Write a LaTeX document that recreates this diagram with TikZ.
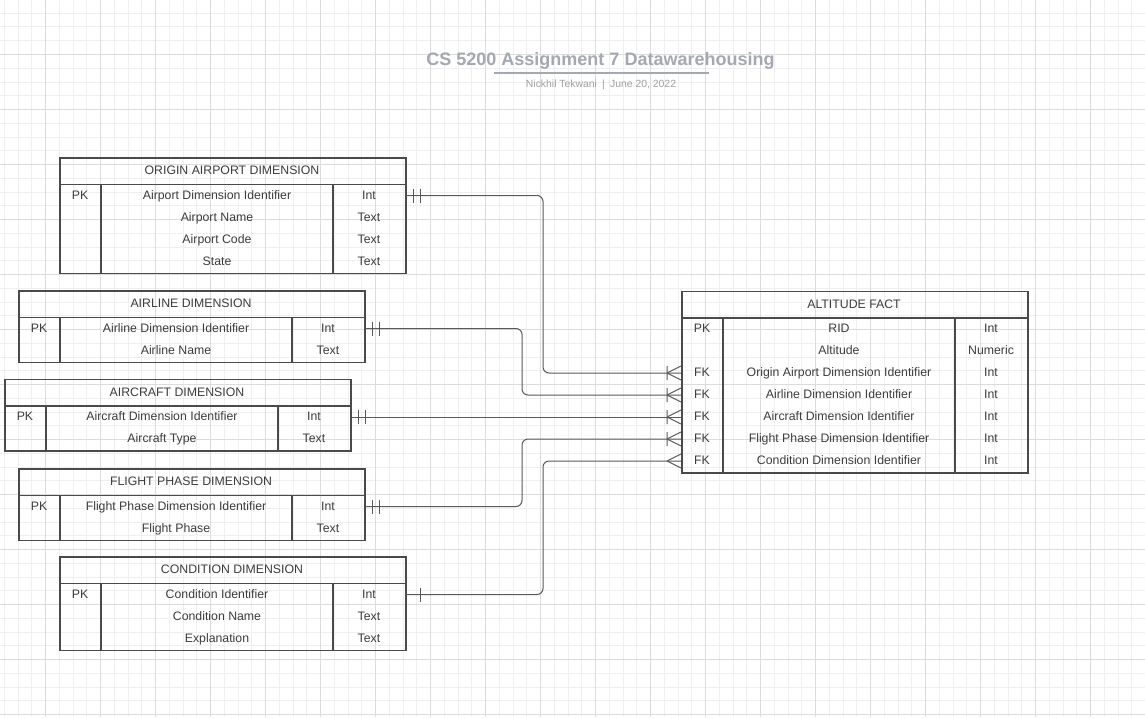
\documentclass[tikz,border=0pt]{standalone}
\usepackage{fontspec}
\setmainfont{Liberation Sans}
\usepackage{tikz}
\usetikzlibrary{positioning}

\definecolor{gridminor}{HTML}{EFEFEF}
\definecolor{gridmajor}{HTML}{DCDCDC}
\definecolor{boxline}{HTML}{4A4A4A}
\definecolor{relline}{HTML}{5A5A5A}
\definecolor{textgray}{HTML}{3C3C3C}
\definecolor{titlegray}{HTML}{A4A8B1}
\definecolor{subgray}{HTML}{A0A0A0}

\tikzset{
  tbox/.style={draw=boxline, line width=1.5pt, minimum width=346pt, inner sep=0pt, anchor=north west},
  tline/.style={draw=boxline, line width=1.2pt},
  htext/.style={font=\fontsize{12.3}{14}\selectfont, text=textgray, inner sep=0pt},
  ctext/.style={font=\fontsize{12.3}{14}\selectfont, text=textgray, inner sep=0pt, text height=8pt, text depth=1pt},
  rel/.style={draw=relline, line width=1pt, rounded corners=6pt},
  onlyone/.pic={\draw[rel] (7,-7) -- (7,7) (14,-7) -- (14,7);},
  justone/.pic={\draw[rel] (14,-7) -- (14,7);},
  crowbar/.pic={\draw[rel] (-14,-7) -- (-14,7) (-14,0) -- (0,-7) (-14,0) -- (0,7);},
  crowfoot/.pic={\draw[rel] (-14,0) -- (0,-7) (-14,0) -- (0,7);}
}

\begin{document}
\begin{tikzpicture}[x=1pt, y=-1pt]
\useasboundingbox (0,0) rectangle (1145,717);
\fill[white] (0,0) rectangle (1145,717);

% grid paper
\begin{scope}
\clip (0,0) rectangle (1145,717);
\foreach \i in {0,...,83} \draw[gridminor, line width=1pt] ({4.25+13.75*\i},0) -- ++(0,717);
\foreach \i in {1,...,52} \draw[gridminor, line width=1pt] (0,{-0.5+13.75*\i}) -- ++(1145,0);
\foreach \i in {1,...,20} \draw[gridmajor, line width=1pt] ({-9.5+55*\i},0) -- ++(0,717);
\foreach \i in {1,...,13} \draw[gridmajor, line width=1pt] (0,{-0.5+55*\i}) -- ++(1145,0);
\end{scope}

% title
\node(title)[anchor=base, font=\bfseries\fontsize{18}{20}\selectfont, text=titlegray, inner sep=0pt] at (600.5,65.5) {CS 5200 Assignment 7 Datawarehousing};
\draw[titlegray, line width=2pt] (494,73) -- (709,73);
\node(sub)[anchor=base, font=\fontsize{10.4}{12}\selectfont, text=subgray, inner sep=0pt] at (601,88) {Nickhil Tekwani\enspace|\enspace June 20, 2022};

% origin airport dimension
\node(oa)[tbox, minimum height=115.5pt] at (59,157) {};
\draw[tline] (59,184.5) -- (405,184.5) (101,184.5) -- (101,272.5) (333,184.5) -- (333,272.5);
\node(oah)[htext] at (232,170.75) {ORIGIN AIRPORT DIMENSION};
\foreach \k/\n/\t [count=\r] in {PK/Airport Dimension Identifier/Int, /Airport Name/Text, /Airport Code/Text, /State/Text}
{
  \node(oaK\r)[ctext] at (80,{173.5+22*\r}) {\k};
  \node(oaN\r)[ctext] at (217,{173.5+22*\r}) {\n};
  \node(oaT\r)[ctext] at (369,{173.5+22*\r}) {\t};
}

% airline dimension
\node(al)[tbox, minimum height=71.5pt] at (18,290) {};
\draw[tline] (18,317.5) -- (364,317.5) (60,317.5) -- (60,361.5) (292,317.5) -- (292,361.5);
\node(alh)[htext] at (191,303.75) {AIRLINE DIMENSION};
\foreach \k/\n/\t [count=\r] in {PK/Airline Dimension Identifier/Int, /Airline Name/Text}
{
  \node(alK\r)[ctext] at (39,{306.5+22*\r}) {\k};
  \node(alN\r)[ctext] at (176,{306.5+22*\r}) {\n};
  \node(alT\r)[ctext] at (328,{306.5+22*\r}) {\t};
}

% aircraft dimension
\node(ac)[tbox, minimum height=71.5pt] at (4,378.5) {};
\draw[tline] (4,406) -- (350,406) (46,406) -- (46,450) (278,406) -- (278,450);
\node(ach)[htext] at (177,392.25) {AIRCRAFT DIMENSION};
\foreach \k/\n/\t [count=\r] in {PK/Aircraft Dimension Identifier/Int, /Aircraft Type/Text}
{
  \node(acK\r)[ctext] at (25,{395+22*\r}) {\k};
  \node(acN\r)[ctext] at (162,{395+22*\r}) {\n};
  \node(acT\r)[ctext] at (314,{395+22*\r}) {\t};
}

% flight phase dimension
\node(fp)[tbox, minimum height=71.5pt] at (18,468) {};
\draw[tline] (18,495.5) -- (364,495.5) (60,495.5) -- (60,539.5) (292,495.5) -- (292,539.5);
\node(fph)[htext] at (191,481.75) {FLIGHT PHASE DIMENSION};
\foreach \k/\n/\t [count=\r] in {PK/Flight Phase Dimension Identifier/Int, /Flight Phase/Text}
{
  \node(fpK\r)[ctext] at (39,{484.5+22*\r}) {\k};
  \node(fpN\r)[ctext] at (176,{484.5+22*\r}) {\n};
  \node(fpT\r)[ctext] at (328,{484.5+22*\r}) {\t};
}

% condition dimension
\node(cd)[tbox, minimum height=93.5pt] at (59,556) {};
\draw[tline] (59,583.5) -- (405,583.5) (101,583.5) -- (101,649.5) (333,583.5) -- (333,649.5);
\node(cdh)[htext] at (232,569.75) {CONDITION DIMENSION};
\foreach \k/\n/\t [count=\r] in {PK/Condition Identifier/Int, /Condition Name/Text, /Explanation/Text}
{
  \node(cdK\r)[ctext] at (80,{572.5+22*\r}) {\k};
  \node(cdN\r)[ctext] at (217,{572.5+22*\r}) {\n};
  \node(cdT\r)[ctext] at (369,{572.5+22*\r}) {\t};
}

% altitude fact
\node(af)[tbox, minimum height=181.5pt] at (681,290.5) {};
\draw[tline] (681,318) -- (1027,318) (723,318) -- (723,472) (955,318) -- (955,472);
\node(afh)[htext] at (854,304.25) {ALTITUDE FACT};
\foreach \k/\n/\t [count=\r] in {PK/RID/Int, /Altitude/Numeric, FK/Origin Airport Dimension Identifier/Int, FK/Airline Dimension Identifier/Int, FK/Aircraft Dimension Identifier/Int, FK/Flight Phase Dimension Identifier/Int, FK/Condition Dimension Identifier/Int}
{
  \node(afK\r)[ctext] at (702,{307+22*\r}) {\k};
  \node(afN\r)[ctext] at (839,{307+22*\r}) {\n};
  \node(afT\r)[ctext] at (991,{307+22*\r}) {\t};
}

% relationships
\coordinate (busA) at (543,0);
\coordinate (busB) at (522,0);
\draw[rel] (oaT1 -| oa.east) -| (busA |- afK3) -- (afK3 -| af.west);
\draw[rel] (alT1 -| al.east) -| (busB |- afK4) -- (afK4 -| af.west);
\draw[rel] (acT1 -| ac.east) -- (afK5 -| af.west);
\draw[rel] (fpT1 -| fp.east) -| (busB |- afK6) -- (afK6 -| af.west);
\draw[rel] (cdT1 -| cd.east) -| (busA |- afK7) -- (afK7 -| af.west);

\pic at (oaT1 -| oa.east) {onlyone};
\pic at (alT1 -| al.east) {onlyone};
\pic at (acT1 -| ac.east) {onlyone};
\pic at (fpT1 -| fp.east) {onlyone};
\pic at (cdT1 -| cd.east) {justone};
\pic at (afK3 -| af.west) {crowbar};
\pic at (afK4 -| af.west) {crowbar};
\pic at (afK5 -| af.west) {crowbar};
\pic at (afK6 -| af.west) {crowbar};
\pic at (afK7 -| af.west) {crowfoot};
\end{tikzpicture}
\end{document}
